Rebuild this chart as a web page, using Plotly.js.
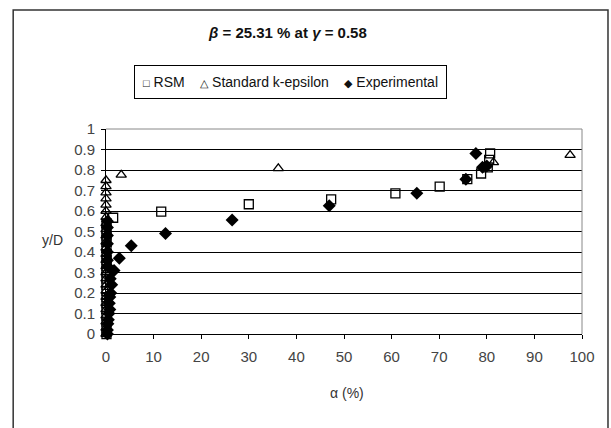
<!DOCTYPE html>
<html>
<head>
<meta charset="utf-8">
<script src="https://cdn.plot.ly/plotly-3.0.1.min.js"></script>
<style>html,body{margin:0;padding:0;background:#fff;}#chart{width:611px;height:428px;}</style>
</head>
<body>
<div id="chart"></div>
<script>
// RSM (open squares)
var rsmX = [0.1,0.1,0.1,0.1,0.1,0.1,0.1,0.1,0.1,0.1,0.1,0.1,0.1,0.1,0.1,0.1,0.1,0.1,0.1,
            1.5,11.6,30.0,47.3,60.8,70.1,75.9,78.8,80.2,80.5,80.7];
var rsmY = [0.00,0.03,0.06,0.09,0.12,0.15,0.18,0.21,0.24,0.27,0.30,0.33,0.36,0.39,0.42,0.45,0.48,0.51,0.54,
            0.567,0.597,0.633,0.657,0.686,0.719,0.755,0.783,0.813,0.849,0.881];
// Standard k-epsilon (open triangles)
var keX = [0,0,0,0,0,0,0,0,0,0,0,0,0,0,0,0,0,0,0,0,0,0,0,0,0,0,
           3.2,36.2,81.4,97.5];
var keY = [0.00,0.03,0.06,0.09,0.12,0.15,0.18,0.21,0.24,0.27,0.30,0.33,0.36,0.39,0.42,0.45,0.48,0.51,0.54,0.57,0.60,0.63,0.66,0.69,0.72,0.75,
           0.776,0.808,0.837,0.873];
// Experimental (filled diamonds)
var expX = [0.3,0.3,0.4,0.5,0.6,0.8,0.7,0.8,1.0,1.2,0.9,0.3,0.3,0.3,0.3,0.3,0.3,0.3,
            1.7,2.8,5.3,12.5,26.5,46.9,65.3,75.6,79.1,80.0,77.7];
var expY = [0.00,0.02,0.05,0.07,0.10,0.12,0.15,0.18,0.20,0.24,0.27,0.33,0.36,0.40,0.44,0.48,0.52,0.55,
            0.31,0.37,0.43,0.49,0.556,0.626,0.686,0.755,0.813,0.82,0.881];

var seriesNames = ['RSM', 'Standard k-epsilon', 'Experimental'];
var legendSymbols = ['□', '△', '◆'];
var xTickVals = [0,10,20,30,40,50,60,70,80,90,100];
var yTickVals = [0,0.1,0.2,0.3,0.4,0.5,0.6,0.7,0.8,0.9,1];

var traces = [
  {x: rsmX, y: rsmY, name: seriesNames[0], type: 'scatter', mode: 'markers', cliponaxis: false,
   marker: {symbol: 'square-open', size: 9, color: '#000', line: {width: 1.3}}},
  {x: keX, y: keY, name: seriesNames[1], type: 'scatter', mode: 'markers', cliponaxis: false,
   marker: {symbol: 'triangle-up-open', size: 9, color: '#000', line: {width: 1.3}}},
  {x: expX, y: expY, name: seriesNames[2], type: 'scatter', mode: 'markers', cliponaxis: false,
   marker: {symbol: 'diamond', size: 10, color: '#000'}}
];

var legendText = seriesNames.map(function (n, i) {
  return '<span style="font-size:11px">' + legendSymbols[i] + '</span> ' + n;
}).join('&nbsp;&nbsp;&nbsp;&nbsp;');

var layout = {
  width: 611, height: 428,
  margin: {l: 106, r: 29, t: 129, b: 94, pad: 0},
  paper_bgcolor: '#fff', plot_bgcolor: '#fff',
  font: {family: 'Liberation Sans, Arial, sans-serif', size: 14, color: '#333'},
  showlegend: false,
  xaxis: {range: [0, 100], tickvals: xTickVals, showgrid: false, zeroline: false,
          showline: true, linecolor: '#000', linewidth: 1, ticks: 'outside', ticklen: 4,
          tickcolor: '#000', tickfont: {size: 15, color: '#444'}, ticklabelstandoff: 5, fixedrange: true},
  yaxis: {range: [0, 1], tickvals: yTickVals, showgrid: true, gridcolor: '#000', gridwidth: 1,
          zeroline: false, showline: true, linecolor: '#000', linewidth: 1, ticks: 'outside',
          ticklen: 4, tickcolor: '#000', tickfont: {size: 15, color: '#444'}, ticklabelstandoff: 3, fixedrange: true},
  shapes: [
    {type: 'line', xref: 'paper', yref: 'paper', x0: 0, x1: 1, y0: 1, y1: 1, line: {color: '#888', width: 1}},
    {type: 'line', xref: 'paper', yref: 'paper', x0: 1, x1: 1, y0: 0, y1: 1, line: {color: '#888', width: 1}},
    {type: 'rect', xref: 'paper', yref: 'paper', x0: -0.195, x1: 1.0546, y0: -0.47, y1: 1.5805,
     line: {color: '#333', width: 1.5}, fillcolor: 'rgba(0,0,0,0)', layer: 'below'}
  ],
  annotations: [
    {xref: 'paper', yref: 'paper', x: 0.382, y: (334 - 32) / 205, xanchor: 'center', yanchor: 'middle',
     showarrow: false, text: '<b><i>β</i> = 25.31 % at <i>γ</i> = 0.58</b>',
     font: {size: 15, color: '#111'}},
    {xref: 'paper', yref: 'paper', x: (290 - 106) / 476, y: (334 - 82) / 205, xanchor: 'center', yanchor: 'middle',
     showarrow: false, text: legendText, font: {size: 14, color: '#111'},
     bordercolor: '#000', borderwidth: 1, borderpad: 8, bgcolor: '#fff'},
    {xref: 'paper', yref: 'paper', x: -0.113, y: 0.459, xanchor: 'center', yanchor: 'middle',
     showarrow: false, text: 'y/D', font: {size: 14, color: '#333'}},
    {xref: 'paper', yref: 'paper', x: 0.506, y: -0.288, xanchor: 'center', yanchor: 'middle',
     showarrow: false, text: 'α (%)', font: {size: 14, color: '#333'}}
  ]
};

Plotly.newPlot('chart', traces, layout, {staticPlot: true, displayModeBar: false});
</script>
</body>
</html>
